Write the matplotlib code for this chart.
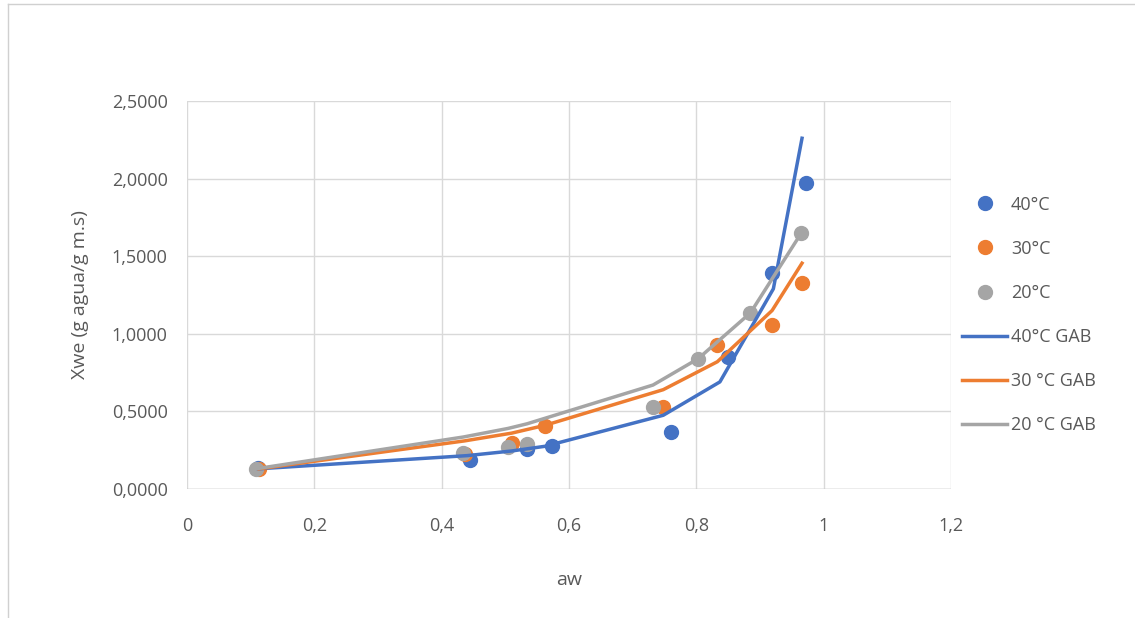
import matplotlib.pyplot as plt
from matplotlib.lines import Line2D
from matplotlib.ticker import FuncFormatter

# datos experimentales (aw, Xwe)
aw_40 = [0.112, 0.445, 0.534, 0.573, 0.760, 0.850, 0.919, 0.972]
xwe_40 = [0.135, 0.19, 0.26, 0.275, 0.367, 0.85, 1.39, 1.97]
aw_30 = [0.113, 0.436, 0.510, 0.562, 0.748, 0.833, 0.919, 0.966]
xwe_30 = [0.13, 0.225, 0.295, 0.405, 0.53, 0.93, 1.055, 1.33]
aw_20 = [0.108, 0.434, 0.504, 0.534, 0.732, 0.803, 0.885, 0.965]
xwe_20 = [0.13, 0.235, 0.27, 0.29, 0.53, 0.835, 1.135, 1.65]

# modelo GAB
gab_aw_40 = [0.112, 0.440, 0.510, 0.562, 0.748, 0.837, 0.921, 0.966]
gab_40 = [0.13, 0.215, 0.245, 0.275, 0.475, 0.69, 1.29, 2.26]
gab_aw_30 = [0.113, 0.436, 0.510, 0.562, 0.748, 0.833, 0.919, 0.966]
gab_30 = [0.13, 0.31, 0.36, 0.41, 0.64, 0.82, 1.15, 1.455]
gab_aw_20 = [0.108, 0.434, 0.504, 0.534, 0.732, 0.803, 0.885, 0.965]
gab_20 = [0.13, 0.335, 0.39, 0.42, 0.67, 0.84, 1.135, 1.65]

azul = "#4472C4"
naranja = "#ED7D31"
gris = "#A5A5A5"
texto = "#595959"

plt.rcParams['font.family'] = ['Open Sans', 'DejaVu Sans']

fig = plt.figure(figsize=(11.35, 6.18), dpi=100)
ax = fig.add_axes([187/1135, 1 - 489/618, (951 - 187)/1135, (489 - 101)/618])

# marco del gráfico
fig.add_artist(Line2D([8/1135, 8/1135], [0.0, 1 - 4/618], transform=fig.transFigure,
                      color="#d0d0d0", linewidth=1))
fig.add_artist(Line2D([8/1135, 1.0], [1 - 4/618, 1 - 4/618], transform=fig.transFigure,
                      color="#d0d0d0", linewidth=1))

ms = 10
ax.plot(aw_40, xwe_40, 'o', color=azul, markersize=ms, zorder=3)
ax.plot(aw_30, xwe_30, 'o', color=naranja, markersize=ms, zorder=3)
ax.plot(aw_20, xwe_20, 'o', color=gris, markersize=ms, zorder=3)
ax.plot(gab_aw_40, gab_40, '-', color=azul, linewidth=2.5, zorder=4)
ax.plot(gab_aw_30, gab_30, '-', color=naranja, linewidth=2.5, zorder=4)
ax.plot(gab_aw_20, gab_20, '-', color=gris, linewidth=2.5, zorder=4)

ax.set_xlim(0, 1.2)
ax.set_ylim(0, 2.5)
ax.set_xticks([0, 0.2, 0.4, 0.6, 0.8, 1.0, 1.2])
ax.set_yticks([0, 0.5, 1.0, 1.5, 2.0, 2.5])
ax.xaxis.set_major_formatter(FuncFormatter(lambda v, p: f"{v:g}".replace(".", ",")))
ax.yaxis.set_major_formatter(FuncFormatter(lambda v, p: f"{v:.4f}".replace(".", ",")))
ax.grid(True, color="#d9d9d9", linewidth=1)
ax.set_axisbelow(True)
for s in ax.spines.values():
    s.set_visible(False)
ax.axhline(0, color="#bfbfbf", linewidth=1, zorder=1)
ax.tick_params(length=0, labelsize=13, labelcolor=texto)
ax.tick_params(axis='x', pad=20)
ax.tick_params(axis='y', pad=14)

ax.set_xlabel("aw", fontsize=14, color=texto, labelpad=26)
ax.set_ylabel("Xwe (g agua/g m.s)", fontsize=14, color=texto, labelpad=16)

handles = [
    Line2D([], [], marker='o', linestyle='', color=azul, markersize=ms),
    Line2D([], [], marker='o', linestyle='', color=naranja, markersize=ms),
    Line2D([], [], marker='o', linestyle='', color=gris, markersize=ms),
    Line2D([], [], color=azul, linewidth=2.5),
    Line2D([], [], color=naranja, linewidth=2.5),
    Line2D([], [], color=gris, linewidth=2.5),
]
labels = ["40°C", "30°C", "20°C", "40°C GAB", "30 °C GAB", "20 °C GAB"]
leg = ax.legend(handles, labels, loc="upper left", bbox_to_anchor=(1.005, 0.775),
                frameon=False, fontsize=13, labelspacing=1.45, handlelength=2.5,
                handletextpad=0.2, borderaxespad=0)
for t in leg.get_texts():
    t.set_color(texto)

fig.savefig("out.png", dpi=100)
